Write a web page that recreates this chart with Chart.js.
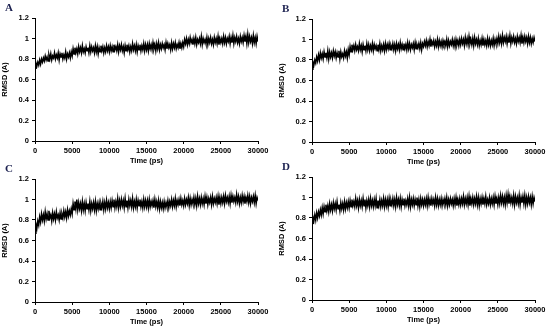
<!DOCTYPE html>
<html>
<head>
<meta charset="utf-8">
<script src="https://cdn.jsdelivr.net/npm/chart.js@4"></script>
<style>
  body { margin: 0; background: #fff; }
  #wrap { position: relative; width: 550px; height: 330px; }
  .panel { position: absolute; width: 275px; height: 165px; }
  .tag { position: absolute; left: 5px; top: 1px; font: bold 11px "Liberation Serif", serif; color: #1c2150; }
</style>
</head>
<body>
<div id="wrap">
  <div class="panel" style="left:0;top:0"><canvas id="cA" width="275" height="165"></canvas><div class="tag">A</div></div>
  <div class="panel" style="left:277px;top:1px"><canvas id="cB" width="275" height="165"></canvas><div class="tag">B</div></div>
  <div class="panel" style="left:0;top:161px"><canvas id="cC" width="275" height="165"></canvas><div class="tag">C</div></div>
  <div class="panel" style="left:277px;top:159px"><canvas id="cD" width="275" height="165"></canvas><div class="tag">D</div></div>
</div>
<script>
// RMSD (A) sampled every 125 ps, 0..30000 ps (40 samples per row = 5000 ps)
const stepPs = 125;
const xTicks = [0, 5000, 10000, 15000, 20000, 25000, 30000];
const yTicks = [0, 0.2, 0.4, 0.6, 0.8, 1, 1.2];

const rmsdA = [
  0.71,0.76,0.73,0.77,0.74,0.79,0.75,0.80,0.77,0.81,0.78,0.83,0.79,0.82,0.78,0.84,0.80,0.85,0.79,0.83,
  0.81,0.86,0.80,0.84,0.81,0.86,0.79,0.85,0.82,0.86,0.80,0.84,0.81,0.87,0.80,0.85,0.82,0.86,0.81,0.87,
  0.83,0.90,0.85,0.91,0.86,0.90,0.85,0.92,0.87,0.91,0.86,0.93,0.87,0.90,0.86,0.92,0.88,0.91,0.86,0.93,
  0.87,0.92,0.88,0.91,0.86,0.93,0.87,0.92,0.85,0.91,0.87,0.93,0.88,0.92,0.86,0.91,0.87,0.93,0.88,0.92,
  0.87,0.93,0.88,0.92,0.87,0.94,0.89,0.92,0.88,0.94,0.87,0.93,0.89,0.94,0.88,0.92,0.86,0.93,0.88,0.94,
  0.89,0.93,0.87,0.92,0.88,0.95,0.89,0.93,0.88,0.94,0.87,0.93,0.89,0.94,0.88,0.93,0.89,0.95,0.88,0.94,
  0.89,0.94,0.88,0.95,0.90,0.94,0.89,0.96,0.90,0.94,0.88,0.95,0.90,0.96,0.89,0.94,0.90,0.95,0.91,0.94,
  0.89,0.96,0.90,0.95,0.91,0.94,0.89,0.96,0.90,0.95,0.91,0.96,0.90,0.94,0.91,0.96,0.90,0.95,0.91,0.96,
  0.92,0.99,0.95,1.00,0.94,0.99,0.95,1.01,0.96,0.99,0.94,1.00,0.95,1.01,0.94,0.99,0.96,1.00,0.95,1.02,
  0.94,1.00,0.96,0.99,0.95,1.01,0.94,1.00,0.96,1.01,0.95,0.99,0.94,1.01,0.96,1.00,0.95,1.02,0.94,1.00,
  0.96,1.00,0.95,1.02,0.96,1.01,0.95,1.00,0.97,1.02,0.95,1.01,0.96,1.03,0.95,1.01,0.97,1.02,0.96,1.00,
  0.95,1.02,0.97,1.01,0.96,1.03,0.97,1.02,0.95,1.04,0.96,1.02,0.97,1.01,0.95,1.03,0.96,1.01,0.95,1.02,
  0.97
];
const rmsdB = [
  0.71,0.78,0.75,0.80,0.77,0.83,0.79,0.85,0.80,0.87,0.82,0.86,0.81,0.88,0.83,0.87,0.82,0.89,0.81,0.88,
  0.83,0.87,0.82,0.89,0.84,0.88,0.82,0.87,0.83,0.89,0.81,0.88,0.83,0.86,0.82,0.89,0.84,0.88,0.82,0.90,
  0.85,0.93,0.88,0.95,0.90,0.94,0.89,0.95,0.90,0.93,0.89,0.96,0.90,0.94,0.88,0.95,0.90,0.94,0.89,0.96,
  0.90,0.95,0.89,0.94,0.90,0.96,0.89,0.95,0.91,0.94,0.89,0.95,0.90,0.96,0.89,0.94,0.90,0.95,0.89,0.96,
  0.90,0.95,0.91,0.96,0.90,0.94,0.91,0.96,0.90,0.95,0.89,0.96,0.91,0.95,0.90,0.97,0.91,0.95,0.90,0.96,
  0.91,0.95,0.90,0.97,0.91,0.96,0.90,0.95,0.92,0.96,0.90,0.97,0.91,0.95,0.92,0.96,0.91,0.97,0.90,0.96,
  0.93,0.98,0.94,0.99,0.93,0.98,0.94,1.00,0.93,0.98,0.95,0.99,0.93,0.98,0.94,1.00,0.93,0.99,0.94,0.98,
  0.93,0.99,0.95,0.98,0.94,1.00,0.93,0.99,0.94,0.98,0.95,1.00,0.94,0.99,0.93,1.00,0.95,0.99,0.94,1.00,
  0.95,1.01,0.96,1.00,0.94,1.02,0.96,1.01,0.95,1.03,0.96,1.00,0.95,1.01,0.94,1.02,0.96,1.00,0.95,1.01,
  0.94,0.99,0.95,1.01,0.94,1.00,0.95,0.99,0.94,1.01,0.95,1.00,0.94,0.99,0.95,1.01,0.94,1.00,0.96,1.01,
  0.96,1.03,0.97,1.02,0.96,1.04,0.97,1.02,0.98,1.03,0.96,1.02,0.97,1.04,0.96,1.02,0.98,1.03,0.97,1.01,
  0.96,1.03,0.98,1.02,0.97,1.04,0.96,1.02,0.97,1.03,0.98,1.02,0.96,1.03,0.97,1.02,0.96,1.01,0.97,1.02,
  0.98
];
const rmsdC = [
  0.67,0.76,0.72,0.79,0.75,0.83,0.78,0.86,0.80,0.85,0.79,0.88,0.81,0.86,0.80,0.89,0.82,0.85,0.79,0.87,
  0.81,0.86,0.80,0.88,0.82,0.85,0.80,0.87,0.81,0.86,0.82,0.89,0.83,0.88,0.82,0.90,0.84,0.89,0.85,0.91,
  0.86,0.96,0.90,0.98,0.91,1.00,0.90,0.97,0.91,0.96,0.89,0.98,0.90,0.96,0.89,0.97,0.91,0.96,0.90,0.98,
  0.89,0.96,0.91,0.97,0.90,0.98,0.89,0.96,0.91,0.97,0.90,0.96,0.92,0.98,0.90,0.97,0.91,0.99,0.92,0.97,
  0.91,0.98,0.92,0.99,0.93,1.00,0.92,0.98,0.93,1.01,0.92,0.99,0.93,1.00,0.94,0.99,0.92,1.01,0.93,0.99,
  0.92,1.00,0.94,0.99,0.93,1.01,0.92,0.98,0.93,1.00,0.92,0.99,0.94,1.00,0.93,0.98,0.92,1.00,0.93,0.99,
  0.93,0.99,0.92,1.00,0.93,0.98,0.94,0.99,0.92,1.00,0.93,0.98,0.92,0.99,0.91,0.98,0.92,0.97,0.91,0.98,
  0.92,0.97,0.93,0.99,0.92,0.98,0.94,1.00,0.93,0.99,0.94,1.01,0.93,0.99,0.95,1.00,0.94,1.01,0.95,0.99,
  0.94,1.01,0.95,1.00,0.96,1.02,0.94,1.01,0.95,1.00,0.96,1.02,0.95,1.01,0.94,1.03,0.96,1.01,0.95,1.02,
  0.96,1.01,0.95,1.03,0.96,1.02,0.95,1.01,0.97,1.02,0.95,1.03,0.96,1.01,0.97,1.02,0.96,1.03,0.95,1.02,
  0.96,1.02,0.97,1.03,0.96,1.04,0.98,1.02,0.97,1.03,0.96,1.04,0.97,1.03,0.98,1.02,0.97,1.05,0.98,1.03,
  0.96,1.02,0.97,1.04,0.98,1.03,0.96,1.02,0.98,1.04,0.97,1.03,0.96,1.02,0.98,1.03,0.97,1.04,0.96,1.02,
  0.99
];
const rmsdD = [
  0.75,0.81,0.77,0.83,0.78,0.85,0.80,0.86,0.82,0.88,0.83,0.90,0.84,0.91,0.86,0.93,0.87,0.92,0.86,0.94,
  0.88,0.93,0.87,0.95,0.89,0.94,0.88,0.96,0.89,0.93,0.87,0.95,0.89,0.94,0.88,0.96,0.89,0.95,0.90,0.96,
  0.90,0.97,0.91,0.98,0.92,0.96,0.91,0.99,0.92,0.97,0.90,0.98,0.92,0.97,0.91,0.99,0.92,0.98,0.90,0.97,
  0.92,0.98,0.91,0.99,0.92,0.97,0.91,0.98,0.92,0.99,0.90,0.97,0.92,0.98,0.91,0.97,0.92,0.99,0.91,0.98,
  0.92,0.98,0.91,0.99,0.92,0.97,0.93,0.99,0.92,0.98,0.91,1.00,0.93,0.98,0.92,0.99,0.91,0.98,0.93,0.99,
  0.92,0.97,0.93,0.99,0.92,1.00,0.91,0.98,0.93,0.99,0.92,0.98,0.93,1.00,0.92,0.98,0.91,0.99,0.93,0.98,
  0.92,0.98,0.93,0.99,0.92,1.00,0.93,0.98,0.92,0.99,0.94,0.98,0.92,1.00,0.93,0.99,0.92,0.98,0.93,0.99,
  0.92,0.98,0.94,0.99,0.93,1.00,0.92,0.98,0.93,0.99,0.94,0.98,0.92,0.99,0.93,1.00,0.92,0.98,0.93,0.99,
  0.93,0.99,0.94,1.01,0.93,0.99,0.94,1.00,0.93,1.01,0.92,0.99,0.94,1.00,0.93,0.99,0.94,1.01,0.93,1.00,
  0.92,0.99,0.94,1.00,0.93,0.99,0.94,1.01,0.93,0.98,0.94,1.00,0.93,0.99,0.94,1.00,0.93,1.01,0.94,0.99,
  0.93,1.00,0.94,1.02,0.95,1.01,0.94,1.00,0.93,1.02,0.95,1.03,0.94,1.01,0.95,1.00,0.94,1.02,0.93,1.01,
  0.95,1.00,0.94,1.02,0.93,1.00,0.95,1.01,0.94,1.02,0.93,1.00,0.94,1.01,0.95,1.00,0.93,1.01,0.94,1.00,
  0.96
];

const tickFont = { family: 'Liberation Sans, Arial, sans-serif', size: 7.5, weight: 'bold' };
const titleFont = { family: 'Liberation Sans, Arial, sans-serif', size: 7.5, weight: 'bold' };

function makeChart(id, values) {
  const points = values.map((v, i) => ({ x: i * stepPs, y: v }));
  const ctx = document.getElementById(id).getContext('2d');
  new Chart(ctx, {
    type: 'line',
    data: {
      datasets: [{
        data: points,
        borderColor: '#000',
        borderWidth: 1.5,
        pointRadius: 0,
        tension: 0
      }]
    },
    options: {
      responsive: false,
      animation: false,
      layout: { padding: { top: 18, right: 17, left: 0, bottom: 0 } },
      plugins: { legend: { display: false }, tooltip: { enabled: false } },
      scales: {
        x: {
          type: 'linear',
          min: 0, max: 30000,
          afterBuildTicks: s => { s.ticks = xTicks.map(v => ({ value: v })); },
          afterFit: s => { s.height = 24; },
          ticks: { color: '#000', font: tickFont, padding: 2, maxRotation: 0, callback: v => String(v) },
          grid: { drawOnChartArea: false, drawTicks: true, tickLength: 3, color: '#000' },
          border: { color: '#000', width: 1 },
          title: { display: true, text: 'Time (ps)', color: '#000', font: titleFont, padding: { top: 1, bottom: 0 } }
        },
        y: {
          min: 0, max: 1.2,
          afterBuildTicks: s => { s.ticks = yTicks.map(v => ({ value: v })); },
          afterFit: s => { s.width = 35; },
          ticks: { color: '#000', font: tickFont, padding: 3, callback: v => String(+v.toFixed(1)) },
          grid: { drawOnChartArea: false, drawTicks: true, tickLength: 3, color: '#000' },
          border: { color: '#000', width: 1 },
          title: { display: true, text: 'RMSD (A)', color: '#000', font: titleFont, padding: 0 }
        }
      }
    }
  });
}

makeChart('cA', rmsdA);
makeChart('cB', rmsdB);
makeChart('cC', rmsdC);
makeChart('cD', rmsdD);
</script>
</body>
</html>
